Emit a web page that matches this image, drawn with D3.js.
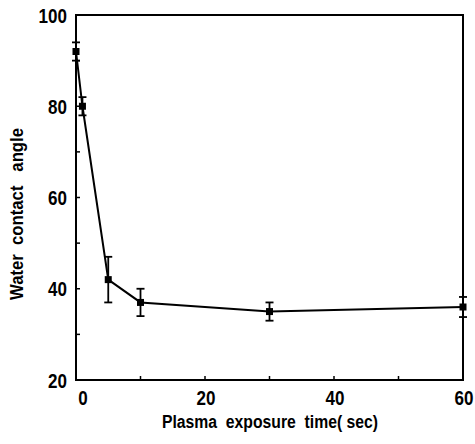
<!DOCTYPE html>
<html>
<head>
<meta charset="utf-8">
<script src="https://cdn.jsdelivr.net/npm/d3@7"></script>
<style>
  body { margin: 0; background: #fff; }
  text { font-family: "Liberation Sans", Arial, sans-serif; font-weight: bold; fill: #000; }
</style>
</head>
<body>
<script>
// data
var times = [0, 1, 5, 10, 30, 60];
var angles = [92, 80, 42, 37, 35, 36];
var errors = [2, 2, 5, 3, 2, 2.2];
var xTicks = [0, 20, 40, 60];
var yTicks = [20, 40, 60, 80, 100];

var w = 475;
var h = 444;
var padL = 76, padR = 463, padT = 15, padB = 380;
var squeeze = 0.83; // the print font is a narrow one

var svg = d3.select("body").append("svg").attr("width", w).attr("height", h);

var x = d3.scaleLinear().domain([0, 60]).range([padL, padR]);
var y = d3.scaleLinear().domain([20, 100]).range([padB, padT]);

// frame
svg.append("rect")
  .attr("x", padL).attr("y", padT)
  .attr("width", padR - padL).attr("height", padB - padT)
  .attr("fill", "none").attr("stroke", "#000").attr("stroke-width", 2);

// small inward ticks
svg.selectAll(".xt").data(d3.range(10, 60, 10)).enter().append("line")
  .attr("x1", function(d){ return x(d); }).attr("x2", function(d){ return x(d); })
  .attr("y1", padB).attr("y2", padB - 4)
  .attr("stroke", "#000").attr("stroke-width", 1.5);
svg.selectAll(".yt").data(d3.range(30, 100, 10)).enter().append("line")
  .attr("x1", padL).attr("x2", padL + 4)
  .attr("y1", function(d){ return y(d); }).attr("y2", function(d){ return y(d); })
  .attr("stroke", "#000").attr("stroke-width", 1.5);

// tick labels
svg.selectAll(".xl").data(xTicks).enter().append("text")
  .attr("transform", function(d){
    return "translate(" + (x(d) + (d == 0 ? 7 : 1)) + ",405) scale(" + squeeze + ",1)";
  })
  .attr("text-anchor", "middle")
  .style("font-size", "20.5px")
  .text(function(d){ return d; });
svg.selectAll(".yl").data(yTicks).enter().append("text")
  .attr("transform", function(d){
    return "translate(67," + (y(d) + 7.5) + ") scale(" + squeeze + ",1)";
  })
  .attr("text-anchor", "end")
  .style("font-size", "20.5px")
  .text(function(d){ return d; });

// axis titles
svg.append("text")
  .attr("x", 162).attr("y", 428)
  .attr("textLength", 216).attr("lengthAdjust", "spacingAndGlyphs")
  .style("font-size", "18px")
  .style("white-space", "pre")
  .text("Plasma  exposure  time( sec)");
svg.append("text")
  .attr("transform", "translate(23,300) rotate(-90)")
  .attr("textLength", 172).attr("lengthAdjust", "spacingAndGlyphs")
  .style("font-size", "18px")
  .style("white-space", "pre")
  .text("Water  contact   angle");

var pts = times.map(function(t, i){ return {t: t, a: angles[i], e: errors[i]}; });

// line
svg.append("path").datum(pts)
  .attr("fill", "none").attr("stroke", "#000").attr("stroke-width", 2)
  .attr("d", d3.line().x(function(d){ return x(d.t); }).y(function(d){ return y(d.a); }));

// error bars
var eb = svg.selectAll(".eb").data(pts).enter().append("g");
eb.append("line")
  .attr("x1", function(d){ return x(d.t); }).attr("x2", function(d){ return x(d.t); })
  .attr("y1", function(d){ return y(d.a - d.e); }).attr("y2", function(d){ return y(d.a + d.e); })
  .attr("stroke", "#000").attr("stroke-width", 1.8);
eb.selectAll(".cap").data(function(d){ return [{t: d.t, v: d.a - d.e}, {t: d.t, v: d.a + d.e}]; })
  .enter().append("line")
  .attr("x1", function(d){ return x(d.t) - 4; }).attr("x2", function(d){ return x(d.t) + 4; })
  .attr("y1", function(d){ return y(d.v); }).attr("y2", function(d){ return y(d.v); })
  .attr("stroke", "#000").attr("stroke-width", 1.8);

// markers
svg.selectAll(".m").data(pts).enter().append("rect")
  .attr("x", function(d){ return x(d.t) - 3.5; })
  .attr("y", function(d){ return y(d.a) - 3.5; })
  .attr("width", 7).attr("height", 7)
  .attr("fill", "#000");
</script>
</body>
</html>
